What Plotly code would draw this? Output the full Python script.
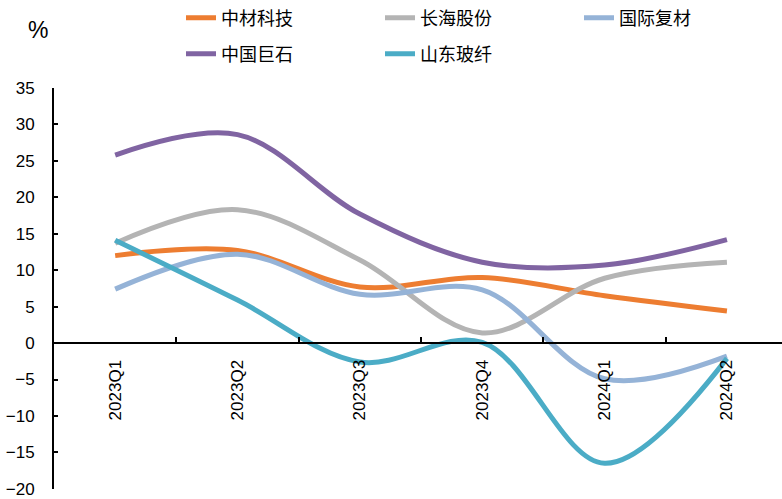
import plotly.graph_objects as go

quarters = ["2023Q1", "2023Q2", "2023Q3", "2023Q4", "2024Q1", "2024Q2"]
zhongcai = [12.0, 12.7, 7.7, 9.0, 6.5, 4.4]
changhai = [13.7, 18.3, 11.4, 1.4, 8.9, 11.1]
guoji = [7.4, 12.2, 6.7, 7.3, -4.9, -1.8]
jushi = [25.8, 28.6, 17.7, 11.1, 10.7, 14.2]
shandong = [14.1, 5.9, -2.6, 0.1, -16.5, -2.1]
y_ticks = [-20, -15, -10, -5, 0, 5, 10, 15, 20, 25, 30, 35]

series = [
    ("中材科技", zhongcai, "#ED7D31", "legend"),
    ("长海股份", changhai, "#B4B4B4", "legend"),
    ("国际复材", guoji, "#95B3D7", "legend"),
    ("中国巨石", jushi, "#8064A2", "legend2"),
    ("山东玻纤", shandong, "#4BACC6", "legend2"),
]

FONT = "Liberation Sans, Arial, Noto Sans CJK SC, sans-serif"

fig = go.Figure()
for name, vals, color, lg in series:
    fig.add_trace(go.Scatter(
        x=quarters, y=vals, name=name, mode="lines",
        line=dict(color=color, width=5, shape="spline", smoothing=1.0),
        legend=lg,
    ))

W, H = 782, 499
L, R, T, B = 54, 0, 88, 8

leg_common = dict(
    orientation="h", xref="container", yref="container",
    xanchor="left", yanchor="middle",
    entrywidth=154, entrywidthmode="pixels",
    font=dict(family=FONT, size=18, color="#000000"),
    bgcolor="rgba(0,0,0,0)", borderwidth=0,
)

fig.update_layout(
    width=W, height=H,
    margin=dict(l=L, r=R, t=T, b=B),
    paper_bgcolor="white", plot_bgcolor="white",
    font=dict(family=FONT, size=17, color="#000000"),
    legend=dict(x=181 / W, y=1 - 18 / H, **leg_common),
    legend2=dict(x=181 / W, y=1 - 54 / H, **leg_common),
    xaxis=dict(
        type="category", range=[-0.5, 5.45],
        anchor="free", position=20.02 / 55.02,
        showline=True, linecolor="#000000", linewidth=2,
        ticks="inside", ticklen=5, tickwidth=1.5, tickcolor="#000000",
        tickson="boundaries", tickangle=-90,
        ticklabelstandoff=9,
        showgrid=False, zeroline=False,
        tickfont=dict(family=FONT, size=17, color="#000000"),
    ),
    yaxis=dict(
        range=[-20.02, 35], tickmode="array", tickvals=y_ticks,
        showline=True, linecolor="#000000", linewidth=2,
        ticks="inside", ticklen=4, tickwidth=1.5, tickcolor="#000000",
        ticklabelstandoff=14, ticklabeloverflow="allow",
        showgrid=False, zeroline=False,
        tickfont=dict(family=FONT, size=17, color="#000000"),
    ),
    annotations=[dict(
        text="%", xref="paper", yref="paper",
        x=(38 - L) / (W - L - R), y=1 + (T - 30) / (H - T - B),
        xanchor="center", yanchor="middle", showarrow=False,
        font=dict(family=FONT, size=23, color="#000000"),
    )],
)

fig.write_html("out.html")
